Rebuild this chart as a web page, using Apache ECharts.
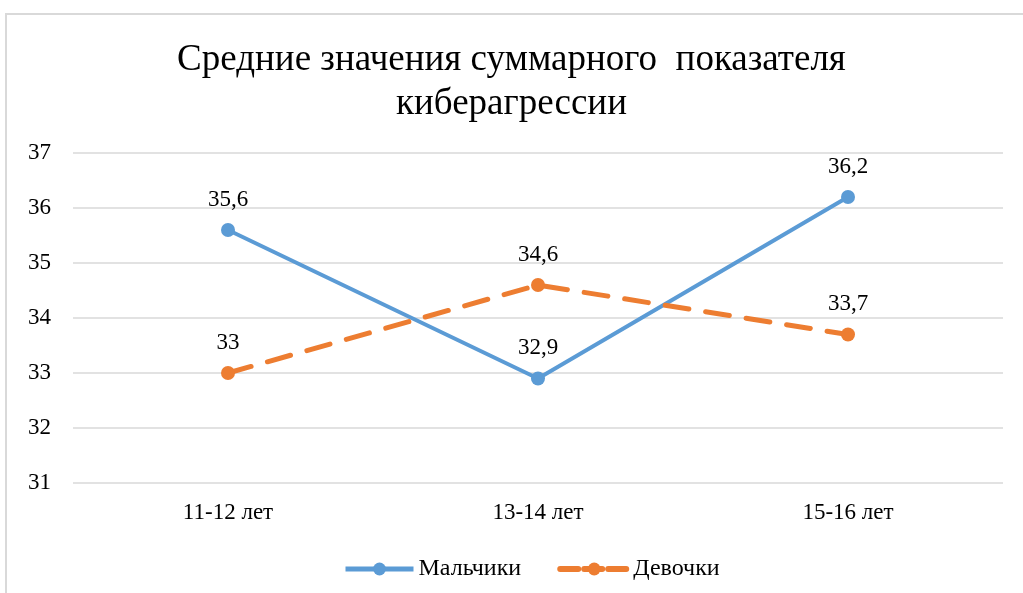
<!DOCTYPE html>
<html lang="ru">
<head>
    <meta charset="UTF-8">
    <title>Киберагрессия</title>
    <style>
        html, body, #echarts {
            margin: 0;
            padding: 0;
            width: 100%;
            height: 100%;
            background: #fff;
        }
    </style>
</head>
<body>
    <div id="echarts"></div>
    <script src="https://cdn.jsdelivr.net/npm/echarts@6/dist/echarts.min.js"></script>
    <script>
        // данные
        var categories = ['11-12 лет', '13-14 лет', '15-16 лет'];
        var boys = [35.6, 32.9, 36.2];
        var girls = [33, 34.6, 33.7];
        var seriesNames = ['Мальчики', 'Девочки'];

        var font = '"Liberation Serif", "Times New Roman", serif';
        var fmt = function (p) { return String(p.value).replace('.', ','); };

        var myChart = echarts.init(document.getElementById('echarts'));
        myChart.setOption({
            animation: false,
            textStyle: { fontFamily: font },
            title: {
                text: 'Средние значения суммарного  показателя\nкиберагрессии',
                left: 'center',
                top: 33,
                textStyle: { fontFamily: font, fontSize: 37, fontWeight: 'normal', color: '#000', lineHeight: 44 }
            },
            graphic: [{
                type: 'rect',
                shape: { x: 6, y: 14, width: 1030, height: 600 },
                style: { fill: 'none', stroke: '#d9d9d9', lineWidth: 2 }
            }],
            legend: {
                left: 338,
                top: 552,
                itemWidth: 68,
                itemHeight: 16,
                itemGap: 36,
                textStyle: { fontFamily: font, fontSize: 24, color: '#000' },
                data: [
                    { name: seriesNames[0], lineStyle: { width: 5 } },
                    { name: seriesNames[1], lineStyle: { width: 6, type: [18, 6] } }
                ]
            },
            grid: { left: 73, right: 20, top: 153, bottom: 110 },
            xAxis: {
                type: 'category',
                data: categories,
                axisLine: { show: false },
                axisTick: { show: false },
                axisLabel: { fontFamily: font, fontSize: 23, color: '#000', margin: 18 }
            },
            yAxis: {
                type: 'value',
                min: 31,
                max: 37,
                interval: 1,
                axisLine: { show: false },
                axisTick: { show: false },
                axisLabel: { fontFamily: font, fontSize: 23, color: '#000', margin: 22 },
                splitLine: { lineStyle: { color: '#d9d9d9', width: 1.5 } }
            },
            series: [{
                name: seriesNames[0],
                type: 'line',
                data: boys,
                symbol: 'circle',
                symbolSize: 14,
                color: '#5b9bd5',
                lineStyle: { width: 4, color: '#5b9bd5' },
                label: { show: true, position: 'top', distance: 12, fontFamily: font, fontSize: 23, color: '#000', formatter: fmt }
            }, {
                name: seriesNames[1],
                type: 'line',
                data: girls,
                symbol: 'circle',
                symbolSize: 14,
                color: '#ed7d31',
                lineStyle: { width: 5, color: '#ed7d31', type: [24, 17], cap: 'round' },
                label: { show: true, position: 'top', distance: 12, fontFamily: font, fontSize: 23, color: '#000', formatter: fmt }
            }]
        });

        window.addEventListener('resize', function () {
            myChart.resize();
        });
    </script>
</body>
</html>
